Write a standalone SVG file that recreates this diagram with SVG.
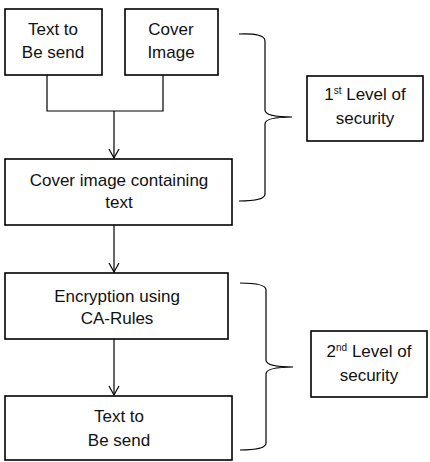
<svg xmlns="http://www.w3.org/2000/svg" width="430" height="462" viewBox="0 0 430 462">
<style>
.box{fill:#fff;stroke:#000;stroke-width:1.6}
.t{font-family:"Liberation Sans",Arial,sans-serif;font-size:17px;fill:#111;text-anchor:middle}
.c{fill:none;stroke:#000;stroke-width:1.2}
.ah{fill:none;stroke:#000;stroke-width:1.2}
</style>
<rect width="430" height="462" fill="#fff"/>
<g id="connectors">
<path class="c" d="M47,75 V111 H163 V75 M114,111 V158"/>
<path class="ah" d="M109,149 L114,158 L119,149"/>
<path class="c" d="M114,225 V272"/>
<path class="ah" d="M109,263 L114,272 L119,263"/>
<path class="c" d="M114,339 V395"/>
<path class="ah" d="M109,386 L114,395 L119,386"/>
<path class="c" d="M239,34 Q265,33 265,41 L265,110 Q265,117 292,117 Q265,117 265,124 L265,194 Q265,201 239,201"/>
<path class="c" d="M240,283 Q266,283 266,290 L266,360 Q266,367 293,367 Q266,367 266,374 L266,443 Q266,450 240,450"/>
</g>
<g id="text-to-send">
<rect class="box" x="5" y="9" width="97" height="66"/>
<text class="t" x="53" y="35">Text to</text>
<text class="t" x="53" y="58">Be send</text>
</g>
<g id="cover-image">
<rect class="box" x="125" y="9" width="93" height="66"/>
<text class="t" x="171" y="35">Cover</text>
<text class="t" x="171" y="58">Image</text>
</g>
<g id="cover-image-containing-text">
<rect class="box" x="5" y="159" width="227" height="66"/>
<text class="t" x="119" y="186">Cover image containing</text>
<text class="t" x="119" y="208">text</text>
</g>
<g id="encryption">
<rect class="box" x="5" y="273" width="223" height="66"/>
<text class="t" x="117" y="302">Encryption using</text>
<text class="t" x="117" y="324">CA-Rules</text>
</g>
<g id="text-to-send-2">
<rect class="box" x="5" y="396" width="227" height="64"/>
<text class="t" x="119" y="422">Text to</text>
<text class="t" x="119" y="446">Be send</text>
</g>
<g id="level1">
<rect class="box" x="307" y="76" width="116" height="65"/>
<text class="t" x="365" y="100">1<tspan font-size="10" dy="-6">st</tspan><tspan dy="6"> Level of</tspan></text>
<text class="t" x="365" y="124">security</text>
</g>
<g id="level2">
<rect class="box" x="311" y="331" width="116" height="66"/>
<text class="t" x="369" y="357">2<tspan font-size="10" dy="-6">nd</tspan><tspan dy="6"> Level of</tspan></text>
<text class="t" x="369" y="381">security</text>
</g>
</svg>
